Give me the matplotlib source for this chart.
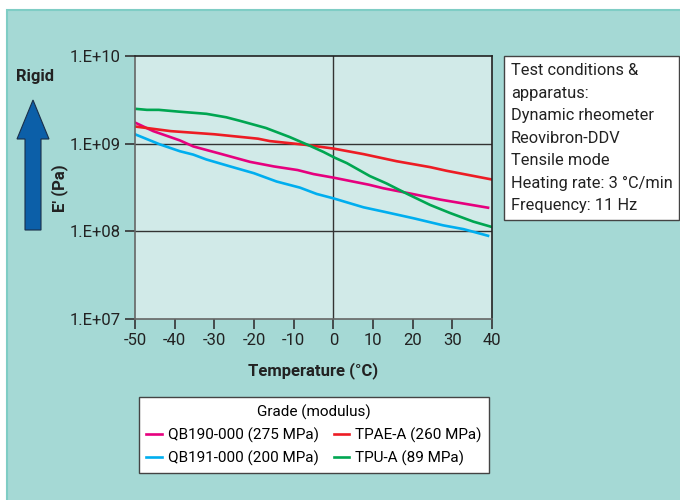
import matplotlib.pyplot as plt
import matplotlib.patches as mpatches
import numpy as np

# E' (Pa)
temp_qb190 = [-50, -45.4, -38.7, -35.3, -28.6, -21, -15, -9, -5, 0, 9, 12.6, 18.5, 27, 39]
e_qb190 = [1.74e9, 1.39e9, 1.09e9, 9.3e8, 7.7e8, 6.2e8, 5.5e8, 5.0e8, 4.5e8, 4.1e8,
           3.4e8, 3.1e8, 2.75e8, 2.3e8, 1.86e8]

temp_qb191 = [-50, -43.7, -38.7, -35.3, -32, -26, -20, -14.3, -8.4, -4.2, 0, 7.6, 12.6,
              20.2, 27.7, 32.8, 39]
e_qb191 = [1.28e9, 9.8e8, 8.2e8, 7.5e8, 6.6e8, 5.5e8, 4.6e8, 3.7e8, 3.15e8, 2.67e8,
           2.38e8, 1.88e8, 1.68e8, 1.41e8, 1.17e8, 1.06e8, 8.9e7]

temp_tpae = [-50, -41, -30, -19, -16, -7, 0, 7.6, 16, 24.4, 28.6, 40]
e_tpae = [1.57e9, 1.39e9, 1.28e9, 1.14e9, 1.07e9, 9.7e8, 8.8e8, 7.6e8, 6.3e8, 5.4e8,
          4.9e8, 3.9e8]

temp_tpu = [-49.6, -47, -44, -39, -32, -27, -23.5, -17, -11, -6, -2.5, 0.4, 3.4, 9.2,
            13.4, 18.5, 24.4, 29.4, 35.3, 40]
e_tpu = [2.49e9, 2.43e9, 2.43e9, 2.32e9, 2.19e9, 2.0e9, 1.82e9, 1.51e9, 1.19e9, 9.5e8,
         8.05e8, 6.9e8, 6.0e8, 4.27e8, 3.52e8, 2.69e8, 2.0e8, 1.62e8, 1.29e8, 1.12e8]

x_ticks = [-50, -40, -30, -20, -10, 0, 10, 20, 30, 40]
y_ticks = [1e7, 1e8, 1e9, 1e10]
y_tick_labels = ['1.E+07', '1.E+08', '1.E+09', '1.E+10']

conditions = ['Test conditions &', 'apparatus:', 'Dynamic rheometer', 'Reovibron-DDV',
              'Tensile mode', 'Heating rate: 3 °C/min', 'Frequency: 11 Hz']

plt.rcParams['font.family'] = ['Roboto', 'DejaVu Sans']

panel = '#a5d9d5'
fig = plt.figure(figsize=(6.8, 5), dpi=100)
fig.patch.set_facecolor('white')
fig.patches.append(mpatches.Rectangle((7 / 680, -0.01), 1.0, 1 - 10 / 500 + 0.01,
                                      transform=fig.transFigure, facecolor=panel,
                                      edgecolor='#7fcdc5', linewidth=1.5, zorder=-10))

ax = fig.add_axes([135 / 680, 1 - 319 / 500, 357 / 680, 263 / 500])
ax.set_facecolor('#d1eae8')

ax.plot(temp_qb190, e_qb190, color='#e6007e', linewidth=1.9, label='QB190-000 (275 MPa)')
ax.plot(temp_qb191, e_qb191, color='#00aeef', linewidth=1.9, label='QB191-000 (200 MPa)')
ax.plot(temp_tpae, e_tpae, color='#ed1c24', linewidth=1.9, label='TPAE-A (260 MPa)')
ax.plot(temp_tpu, e_tpu, color='#00a651', linewidth=1.9, label='TPU-A (89 MPa)')

ax.set_yscale('log')
ax.set_xlim(-50, 40)
ax.set_ylim(1e7, 1e10)
ax.set_xticks(x_ticks)
ax.set_xticklabels([str(t) for t in x_ticks])
ax.set_yticks(y_ticks)
ax.set_yticklabels(y_tick_labels)
ax.minorticks_off()
ax.tick_params(axis='both', labelsize=12, colors='#333333', length=7, width=1.2,
               labelcolor='#222222')
ax.tick_params(axis='x', pad=3)
ax.tick_params(axis='y', pad=3)

for y in [1e8, 1e9]:
    ax.axhline(y, color='#333333', linewidth=1.0, zorder=1)
ax.axvline(0, color='#333333', linewidth=1.0, zorder=1)

ax.spines['top'].set_color('#222222')
ax.spines['right'].set_color('#222222')
ax.spines['left'].set_color('#666666')
ax.spines['bottom'].set_color('#666666')
for s in ax.spines.values():
    s.set_linewidth(1.2)

ax.set_xlabel('Temperature (°C)', fontsize=12, fontweight='bold', color='#222222', labelpad=10)

# y label, "Rigid" and arrow on the left
fig.text(60 / 680, 1 - 188 / 500, "E' (Pa)", rotation=90, ha='center', va='center',
         fontsize=12, fontweight='bold', color='#222222')
fig.text(35 / 680, 1 - 77 / 500, 'Rigid', ha='center', va='center',
         fontsize=12, fontweight='bold', color='#222222')
fig.patches.append(mpatches.FancyArrow(33 / 680, 1 - 230 / 500, 0, 130 / 500,
                                       width=16 / 680, head_width=32 / 680,
                                       head_length=39 / 500, length_includes_head=True,
                                       transform=fig.transFigure, facecolor='#0c5fa8',
                                       edgecolor='#1a2f4a', linewidth=0.8))

# test conditions box
fig.text(511 / 680, 1 - 63 / 500, '\n'.join(conditions), ha='left', va='top',
         fontsize=11.8, color='#222222', linespacing=1.63,
         bbox=dict(boxstyle='square,pad=0.4', facecolor='white', edgecolor='#444444',
                   linewidth=1.0))

leg = fig.legend(loc='center', bbox_to_anchor=(314 / 680, 1 - 435 / 500), ncol=2,
                 title='Grade (modulus)', fontsize=11, title_fontsize=11,
                 frameon=True, fancybox=False, edgecolor='#444444', framealpha=1,
                 handlelength=1.0, handletextpad=0.4, columnspacing=1.0,
                 labelspacing=0.5, borderpad=0.45)
leg.get_frame().set_linewidth(1.0)

fig.savefig('out.png', dpi=100, facecolor=fig.get_facecolor())
